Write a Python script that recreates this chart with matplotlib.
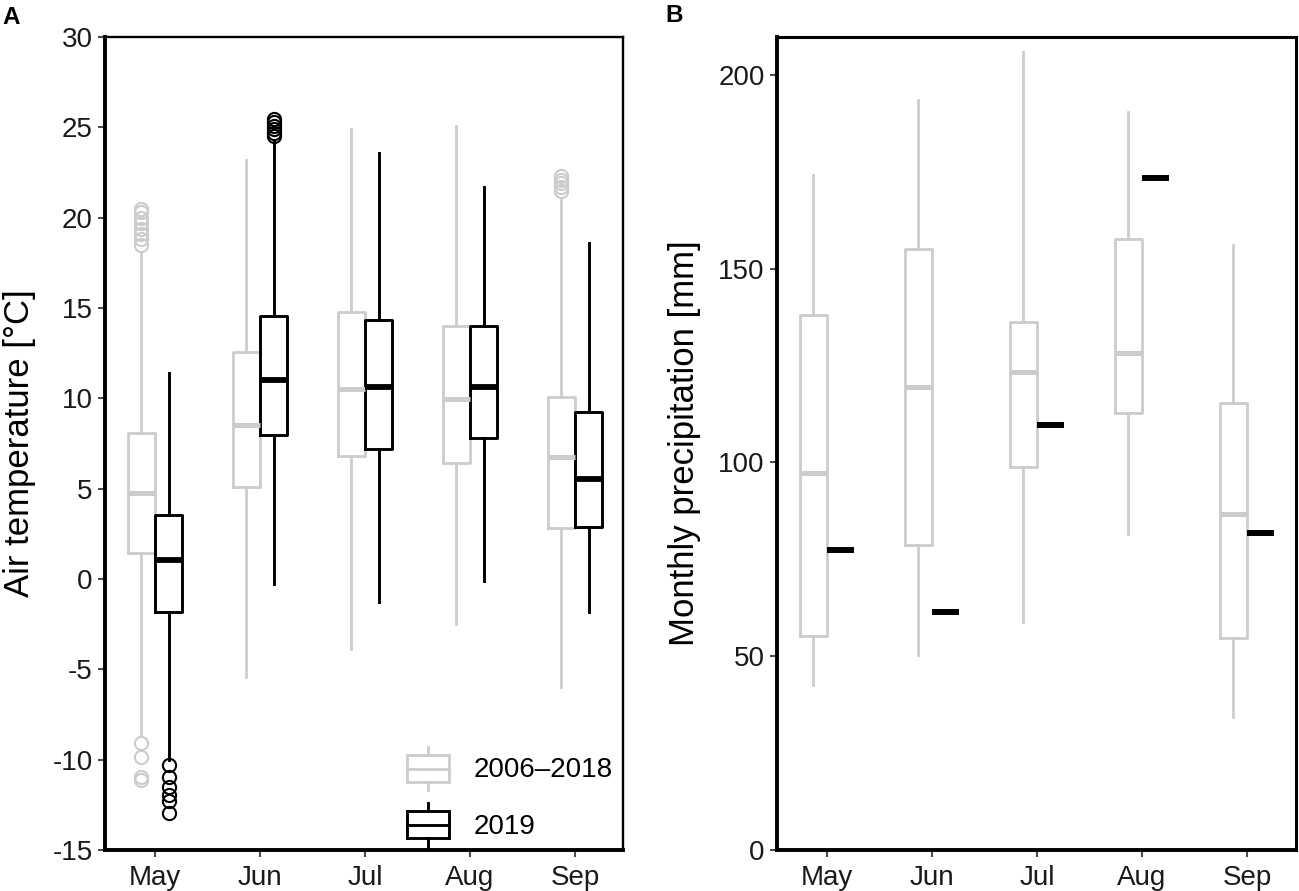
import matplotlib
matplotlib.use("Agg")
import matplotlib.pyplot as plt
from matplotlib.patches import Rectangle, Patch
from matplotlib.lines import Line2D
from matplotlib.legend_handler import HandlerBase

plt.rcParams['font.family'] = ['Liberation Sans', 'DejaVu Sans']

months = ["May", "Jun", "Jul", "Aug", "Sep"]
series_names = ["2006\u20132018", "2019"]

# Panel A: air temperature box statistics
hist_whislo = [-8.6, -5.4, -3.9, -2.5, -6.0]
hist_q1 = [1.45, 5.1, 6.8, 6.4, 2.8]
hist_med = [4.75, 8.55, 10.5, 9.95, 6.75]
hist_q3 = [8.1, 12.56, 14.8, 14.0, 10.07]
hist_whishi = [18.1, 23.2, 24.9, 25.1, 21.1]
hist_fliers = [
    [-11.1, -10.96, -9.85, -9.1, 18.5, 18.8, 19.1, 19.4, 19.7, 20.0, 20.3, 20.5],
    [], [], [],
    [21.5, 21.7, 21.9, 22.1, 22.3],
]

y19_whislo = [-10.0, -0.3, -1.3, -0.1, -1.8]
y19_q1 = [-1.8, 7.97, 7.2, 7.8, 2.88]
y19_med = [1.05, 11.0, 10.6, 10.6, 5.53]
y19_q3 = [3.55, 14.53, 14.33, 14.0, 9.24]
y19_whishi = [11.4, 24.3, 23.6, 21.7, 18.6]
y19_fliers = [
    [-10.3, -10.95, -11.5, -11.95, -12.3, -12.95],
    [24.5, 24.7, 24.9, 25.1, 25.3, 25.45],
    [], [], [],
]

# Panel B: monthly precipitation
prec_whislo = [42.6, 50.3, 58.8, 81.5, 34.3]
prec_q1 = [55.2, 78.7, 98.8, 112.8, 54.7]
prec_med = [97.3, 119.5, 123.4, 128.3, 86.7]
prec_q3 = [138.0, 155.1, 136.3, 157.7, 115.4]
prec_whishi = [174.2, 193.5, 206.0, 190.5, 156.1]
prec_2019 = [77.4, 61.4, 109.7, 173.4, 81.8]

tempA_ticks = [-15, -10, -5, 0, 5, 10, 15, 20, 25, 30]
precB_ticks = [0, 50, 100, 150, 200]

GRAY = "#CCCCCC"
BLACK = "#000000"
W = 0.26
OFF = 0.13


def stats(wl, q1, md, q3, wh, fl):
    return [dict(whislo=a, q1=b, med=c, q3=d, whishi=e, fliers=f)
            for a, b, c, d, e, f in zip(wl, q1, md, q3, wh, fl)]


def draw_bxp(ax, st, pos, color, lw, medlw):
    ax.bxp(st, positions=pos, widths=W, showcaps=False, patch_artist=False,
           boxprops=dict(color=color, linewidth=lw),
           whiskerprops=dict(color=color, linewidth=lw),
           medianprops=dict(color=color, linewidth=medlw, solid_capstyle='butt'),
           flierprops=dict(marker='o', markerfacecolor='none', markeredgecolor=color,
                           markersize=9.5, markeredgewidth=1.5))


class BoxKey(HandlerBase):
    def create_artists(self, legend, orig_handle, xdescent, ydescent,
                       width, height, fontsize, trans):
        c = orig_handle.get_edgecolor()
        lw = orig_handle.get_linewidth()
        x0 = -xdescent
        y0 = -ydescent
        bh = height * 0.62
        by = y0 + (height - bh) / 2
        rect = Rectangle((x0, by), width, bh, fill=False, edgecolor=c, lw=lw,
                         transform=trans)
        med = Line2D([x0, x0 + width], [y0 + height / 2] * 2, color=c, lw=lw,
                     transform=trans)
        w1 = Line2D([x0 + width / 2] * 2, [y0, by], color=c, lw=lw, transform=trans)
        w2 = Line2D([x0 + width / 2] * 2, [by + bh, y0 + height], color=c, lw=lw,
                    transform=trans)
        return [rect, med, w1, w2]


fig = plt.figure(figsize=(12.99, 8.91), dpi=100)
axA = fig.add_axes([105 / 1299, 1 - 850 / 891, 518 / 1299, 813 / 891])
axB = fig.add_axes([777 / 1299, 1 - 850 / 891, 519 / 1299, 813 / 891])

x = list(range(1, len(months) + 1))
xh = [i - OFF for i in x]
x19 = [i + OFF for i in x]

draw_bxp(axA, stats(hist_whislo, hist_q1, hist_med, hist_q3, hist_whishi, hist_fliers),
         xh, GRAY, 2.0, 3.6)
draw_bxp(axA, stats(y19_whislo, y19_q1, y19_med, y19_q3, y19_whishi, y19_fliers),
         x19, BLACK, 2.1, 4.2)

draw_bxp(axB, stats(prec_whislo, prec_q1, prec_med, prec_q3, prec_whishi,
                    [[] for _ in months]), xh, GRAY, 2.0, 3.6)
axB.hlines(prec_2019, [i - W / 2 for i in x19], [i + W / 2 for i in x19],
           colors=BLACK, linewidth=4.3)

axA.set_xlim(0.524, 5.457)
axA.set_ylim(-15, 30)
axA.set_yticks(tempA_ticks)
axA.set_yticklabels([str(t) for t in tempA_ticks])
axB.set_xlim(0.524, 5.467)
axB.set_ylim(0, 209.8)
axB.set_yticks(precB_ticks)
axB.set_yticklabels([str(t) for t in precB_ticks])

for ax in (axA, axB):
    ax.set_xticks(x)
    ax.set_xticklabels(months)
    ax.tick_params(axis='both', labelsize=20, length=5, width=1.5,
                   color='#4D4D4D', labelcolor='#1A1A1A', pad=4)
    ax.tick_params(axis='x', pad=5.5)
    for s in ('left', 'bottom'):
        ax.spines[s].set_linewidth(2.8)
    for s in ('top', 'right'):
        ax.spines[s].set_linewidth(1.7 if ax is axA else 2.2)
    for s in ax.spines.values():
        s.set_color('black')

axA.set_ylabel("Air temperature [\u00b0C]", fontsize=25, labelpad=12)
axB.set_ylabel("Monthly precipitation [mm]", fontsize=25, labelpad=12)

handles = [Patch(edgecolor=GRAY, facecolor='none', linewidth=2.0),
           Patch(edgecolor=BLACK, facecolor='none', linewidth=2.1)]
axA.legend(handles, series_names, handler_map={Patch: BoxKey()},
           loc='lower right', bbox_to_anchor=(0.981, 0.004), frameon=False,
           fontsize=20, handlelength=1.5, handleheight=2.05,
           labelspacing=0.45, handletextpad=0.9, borderpad=0, borderaxespad=0)

fig.text(2 / 1299, 1 - 17 / 891, "A", fontsize=17.5, fontweight='bold', va='center', ha='left')
fig.text(665 / 1299, 1 - 15.5 / 891, "B", fontsize=17.5, fontweight='bold', va='center', ha='left')

fig.savefig("out.png", dpi=100)
